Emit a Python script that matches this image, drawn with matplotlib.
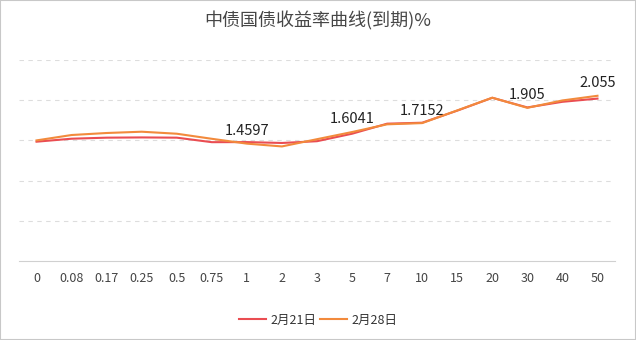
import matplotlib.pyplot as plt
import matplotlib.patches as patches

plt.rcParams['font.family'] = ['Noto Sans CJK SC', 'DejaVu Sans']

# 期限 (years)
terms = ['0', '0.08', '0.17', '0.25', '0.5', '0.75', '1', '2', '3', '5',
         '7', '10', '15', '20', '30', '40', '50']
# 收益率 %
feb21 = [1.484, 1.521, 1.534, 1.537, 1.534, 1.478, 1.479, 1.468, 1.49, 1.583,
         1.708, 1.72, 1.87, 2.03, 1.91, 1.98, 2.02]
feb28 = [1.50, 1.567, 1.592, 1.608, 1.583, 1.52, 1.4597, 1.425, 1.515, 1.6041,
         1.70, 1.7152, 1.873, 2.031, 1.905, 1.997, 2.055]
label_idx = [6, 9, 11, 14, 16]

red = '#ea4d52'
orange = '#f28a3c'

fig = plt.figure(figsize=(6.36, 3.4), dpi=100)
ax = fig.add_axes([19/636, 1-261/340, (615-19)/636, (261-60)/340])

x = list(range(len(terms)))
l1, = ax.plot(x, feb21, color=red, lw=1.5, label='2月21日', zorder=3)
l2, = ax.plot(x, feb28, color=orange, lw=1.5, label='2月28日', zorder=4)

for i in label_idx:
    ax.annotate(str(feb28[i]), (i, feb28[i]), xytext=(0, 4), textcoords='offset points',
                ha='center', va='bottom', fontsize=10.5, color='#222222')

ax.set_xlim(-0.5, len(terms) - 0.5)
ax.set_ylim(0, 2.5)
ax.set_yticks([0.5, 1.0, 1.5, 2.0, 2.5])
ax.set_yticklabels([])
ax.yaxis.grid(True, color='#dddddd', lw=0.8, linestyle=(0, (4, 4)))
ax.set_xticks(x)
ax.set_xticklabels(terms, fontsize=9, color='#444444')
ax.tick_params(axis='x', length=0, pad=8)
ax.tick_params(axis='y', length=0)
for s in ['top', 'right', 'left']:
    ax.spines[s].set_visible(False)
ax.spines['bottom'].set_color('#d0d0d0')

fig.text(0.5, 1-21/340, '中债国债收益率曲线(到期)%', ha='center', va='center',
         fontsize=13, color='#464646')

fig.legend(handles=[l1, l2], loc='center', bbox_to_anchor=(0.5, 1-320/340), ncol=2,
           frameon=False, fontsize=9, handlelength=2.2, handletextpad=0.3,
           columnspacing=0.3, labelcolor='#333333')

fig.patches.append(patches.Rectangle((0, 0), 1, 1, transform=fig.transFigure,
                                     fill=False, edgecolor='#c8c8c8', lw=1.5))

fig.savefig('out.png', dpi=100)
